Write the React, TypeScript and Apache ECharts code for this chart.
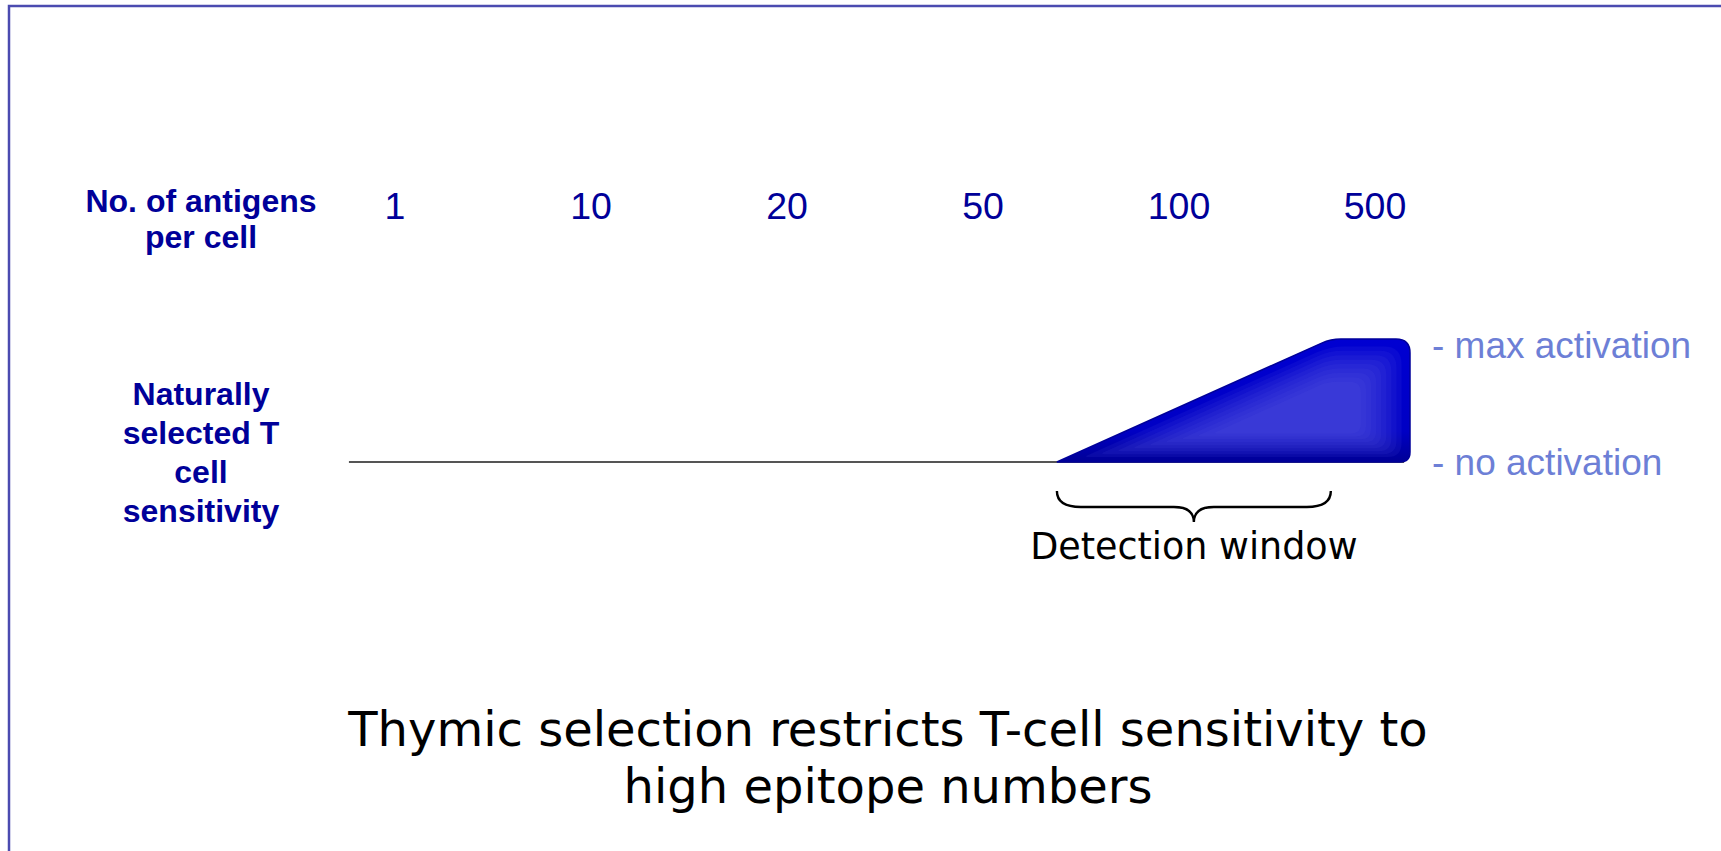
import { useEffect, useRef } from 'react';
import * as echarts from 'echarts';

// ---- data ----
const antigenLabels = ['1', '10', '20', '50', '100', '500'];
// positions below are in "antigen category index" units (0 = "1", 5 = "500")
const baselineX = [-0.235, 5.15];
const baselineY = [0, 0];
const responseX = [3.378, 4.776, 5.18];
const responseY = [0, 1, 1];
const activationLevels = [0, 1];
const activationLabels = ['- no activation', '- max activation'];
const detectionWindow = [3.378, 4.776];
const detectionLabel = 'Detection window';
const topLeftLabel = 'No. of antigens\nper cell';
const sideLabel = 'Naturally\nselected T\ncell\nsensitivity';
const titleText = 'Thymic selection restricts T-cell sensitivity to\nhigh epitope numbers';

const ARIAL = '"Liberation Sans", Arial, sans-serif';
const VERDANA = '"DejaVu Sans", Verdana, sans-serif';
const NAVY = '#000099';
const LIGHT = '#6d7fd6';

function unit(q: number[], p: number[]) {
  const dx = q[0] - p[0];
  const dy = q[1] - p[1];
  const l = Math.sqrt(dx * dx + dy * dy) || 1;
  return [dx / l, dy / l];
}

function roundedPolygon(pts: number[][], radii: number[]): string {
  const n = pts.length;
  let d = '';
  for (let i = 0; i < n; i++) {
    const p = pts[i];
    const prev = pts[(i - 1 + n) % n];
    const next = pts[(i + 1) % n];
    const r = radii[i];
    const v1 = unit(prev, p);
    const v2 = unit(next, p);
    const a = [p[0] + v1[0] * r, p[1] + v1[1] * r];
    const b = [p[0] + v2[0] * r, p[1] + v2[1] * r];
    d +=
      (i === 0 ? 'M' : 'L') +
      a[0].toFixed(2) + ' ' + a[1].toFixed(2) +
      ' Q' + p[0].toFixed(2) + ' ' + p[1].toFixed(2) + ' ' +
      b[0].toFixed(2) + ' ' + b[1].toFixed(2) + ' ';
  }
  return d + 'Z';
}

export default function App() {
  const ref = useRef<HTMLDivElement>(null);

  useEffect(() => {
    if (!ref.current) return;
    const chart = echarts.init(ref.current, undefined, { renderer: 'svg' });

    const renderWedge = (_params: any, api: any) => {
      const p0 = api.coord([responseX[0], responseY[0]]);
      const p1 = api.coord([responseX[1], responseY[1]]);
      const p2 = api.coord([responseX[2], responseY[2]]);
      const p3 = api.coord([responseX[2], responseY[0]]);
      const pts = [p0, p1, p2, p3];
      const radii = [0, 10, 14, 10];

      const children: any[] = [];
      children.push({
        type: 'path',
        shape: { pathData: roundedPolygon(pts, radii) },
        style: {
          fill: new echarts.graphic.LinearGradient(0, 0, 0, 1, [
            { offset: 0, color: '#0000d2' },
            { offset: 0.75, color: '#0000c4' },
            { offset: 1, color: '#000096' },
          ]),
          stroke: '#00009a',
          lineWidth: 1.5,
        },
      });
      // soft inner highlight
      const cx = p0[0] + 0.76 * (p3[0] - p0[0]);
      const cy = p1[1] + 0.6 * (p3[1] - p1[1]);
      const scales = [0.9, 0.84, 0.78, 0.72, 0.66, 0.6, 0.54, 0.48, 0.42];
      scales.forEach((s) => {
        const sp = pts.map((p) => [cx + (p[0] - cx) * s, cy + (p[1] - cy) * s]);
        children.push({
          type: 'path',
          shape: { pathData: roundedPolygon(sp, radii.map((r) => r * s + 5)) },
          style: { fill: 'rgba(90,90,232,0.11)', stroke: 'none' },
        });
      });

      // brace under the detection window
      const b0 = api.coord([detectionWindow[0], 0]);
      const b1 = api.coord([detectionWindow[1], 0]);
      const x0 = b0[0];
      const x1 = b1[0];
      const y = b0[1];
      const y0 = y + 29;
      const yh = y + 45;
      const yt = y + 60;
      const xm = (x0 + x1) / 2;
      const brace =
        `M${x0} ${y0} Q${x0} ${yh} ${x0 + 24} ${yh} L${xm - 20} ${yh} ` +
        `Q${xm} ${yh} ${xm} ${yt} Q${xm} ${yh} ${xm + 20} ${yh} ` +
        `L${x1 - 24} ${yh} Q${x1} ${yh} ${x1} ${y0}`;
      children.push({
        type: 'path',
        shape: { pathData: brace },
        style: { fill: 'none', stroke: '#000000', lineWidth: 2.4 },
      });
      children.push({
        type: 'text',
        style: {
          text: detectionLabel,
          x: xm,
          y: y + 84,
          textAlign: 'center',
          textVerticalAlign: 'middle',
          align: 'center',
          verticalAlign: 'middle',
          font: `36.5px ${VERDANA}`,
          fill: '#000000',
        },
      });
      return { type: 'group', children };
    };

    const option: any = {
      animation: false,
      backgroundColor: '#ffffff',
      grid: [
        { left: 297, right: 248, top: 150, height: 56 },
        { left: 297, right: 311, top: 339, height: 123 },
      ],
      xAxis: [
        {
          type: 'category',
          gridIndex: 0,
          data: antigenLabels,
          boundaryGap: true,
          axisLine: { show: false },
          axisTick: { show: false },
          splitLine: { show: false },
          axisLabel: {
            interval: 0,
            margin: 0,
            verticalAlign: 'middle',
            fontSize: 37.5,
            color: NAVY,
            fontFamily: ARIAL,
          },
        },
        { type: 'value', gridIndex: 1, min: -0.5, max: 5.18, show: false },
      ],
      yAxis: [
        { type: 'value', gridIndex: 0, show: false },
        {
          type: 'value',
          gridIndex: 1,
          min: 0,
          max: 1,
          interval: 1,
          position: 'right',
          axisLine: { show: false },
          axisTick: { show: false },
          splitLine: { show: false },
          axisLabel: {
            margin: 22,
            fontSize: 37,
            color: LIGHT,
            fontFamily: ARIAL,
            formatter: (v: number) => {
              const i = activationLevels.indexOf(v);
              if (i < 0) return '';
              return v === 1 ? `{hi|${activationLabels[i]}}` : `{lo|${activationLabels[i]}}`;
            },
            rich: {
              hi: { fontSize: 37, color: LIGHT, fontFamily: ARIAL, padding: [12, 0, 0, 0] },
              lo: { fontSize: 37, color: LIGHT, fontFamily: ARIAL },
            },
          },
        },
      ],
      series: [
        {
          type: 'line',
          xAxisIndex: 1,
          yAxisIndex: 1,
          data: baselineX.map((x, i) => [x, baselineY[i]]),
          symbol: 'none',
          lineStyle: { color: '#555555', width: 2 },
          silent: true,
          z: 1,
        },
        {
          type: 'custom',
          xAxisIndex: 1,
          yAxisIndex: 1,
          clip: false,
          silent: true,
          z: 2,
          data: [[responseX[0], responseY[0]]],
          renderItem: renderWedge,
        },
      ],
      graphic: [
        {
          type: 'rect',
          shape: { x: 9, y: 6, width: 1800, height: 900 },
          style: { fill: 'none', stroke: '#4b4bb0', lineWidth: 2.5 },
          silent: true,
        },
        {
          type: 'text',
          style: {
            text: topLeftLabel,
            x: 201,
            y: 219,
            textAlign: 'center',
            textVerticalAlign: 'middle',
            align: 'center',
            verticalAlign: 'middle',
            font: `bold 32px ${ARIAL}`,
            lineHeight: 36,
            fill: NAVY,
          },
        },
        {
          type: 'text',
          style: {
            text: sideLabel,
            x: 201,
            y: 452,
            textAlign: 'center',
            textVerticalAlign: 'middle',
            align: 'center',
            verticalAlign: 'middle',
            font: `bold 32px ${ARIAL}`,
            lineHeight: 39,
            fill: NAVY,
          },
        },
        {
          type: 'text',
          style: {
            text: titleText,
            x: 888,
            y: 757,
            textAlign: 'center',
            textVerticalAlign: 'middle',
            align: 'center',
            verticalAlign: 'middle',
            font: `48px ${VERDANA}`,
            lineHeight: 57,
            fill: '#000000',
          },
        },
      ],
    };

    chart.setOption(option);
    return () => chart.dispose();
  }, []);

  return (
    <div
      ref={ref}
      style={{ position: 'absolute', left: 0, top: 0, width: 1721, height: 851, background: '#ffffff' }}
    />
  );
}
